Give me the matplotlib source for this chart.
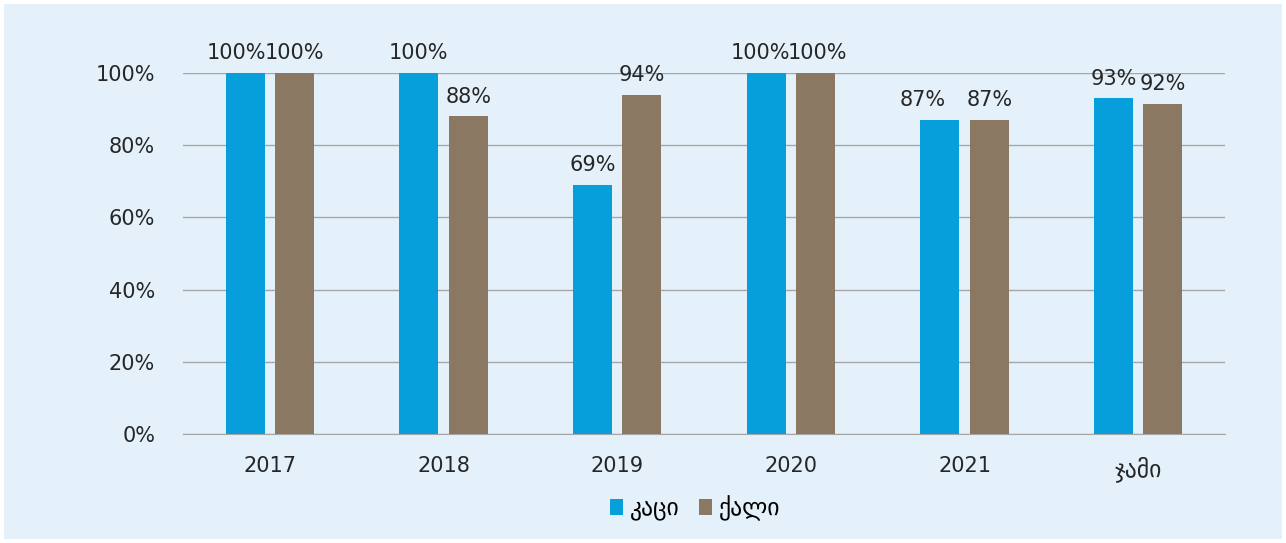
import matplotlib.pyplot as plt
from matplotlib.patches import Rectangle
import numpy as np

categories = ["2017", "2018", "2019", "2020", "2021", "ჯამი"]
men = [1.00, 1.00, 0.69, 1.00, 0.87, 0.93]
women = [1.00, 0.88, 0.94, 1.00, 0.87, 0.915]
series_names = ["კაცი", "ქალი"]

blue = "#069FDC"
brown = "#8B7862"
bg = "#E4F1FA"
txt = "#262626"

plt.rcParams['font.family'] = ['DejaVu Sans']

fig = plt.figure(figsize=(12.86, 5.43), dpi=100, facecolor="white")
fig.patches.append(Rectangle((4 / 1286, 4 / 543), 1278 / 1286, 535 / 543,
                             transform=fig.transFigure, facecolor=bg,
                             edgecolor="none", zorder=-10))
ax = fig.add_axes([183 / 1286, 109 / 543, 1042 / 1286, 361 / 543])
ax.set_facecolor("none")

x = np.arange(len(categories))
w = 0.225
off = 0.1425
b1 = ax.bar(x - off, men, w, color=blue, label=series_names[0], zorder=3)
b2 = ax.bar(x + off, women, w, color=brown, label=series_names[1], zorder=3)

# small sideways nudges of the labels (in points) as in the original
men_nudge = [-6, 0, 0, -4, -12, 0]
women_nudge = [0, 0, 0, 1, 0, 0]
for bars, vals, nudge in ((b1, men, men_nudge), (b2, women, women_nudge)):
    for rect, v, dx in zip(bars, vals, nudge):
        ax.annotate(f"{v:.0%}", (rect.get_x() + rect.get_width() / 2, v),
                    xytext=(dx, 7), textcoords="offset points",
                    ha="center", va="bottom", fontsize=15, color=txt,
                    annotation_clip=False)

ax.set_xlim(-0.5, len(categories) - 0.5)
ax.set_ylim(0, 1.0)
yt = np.arange(0, 1.01, 0.2)
ax.set_yticks(yt)
ax.set_yticklabels([f"{int(round(t * 100))}%" for t in yt])
ax.set_xticks(x)
ax.set_xticklabels(categories)
ax.tick_params(length=0, labelsize=15, labelcolor=txt)
ax.tick_params(axis="y", pad=20)
ax.tick_params(axis="x", pad=16)
ax.get_xticklabels()[-1].set_fontsize(17)
ax.yaxis.grid(True, color="#A6A6A6", linewidth=1, zorder=0)
ax.set_axisbelow(True)
for s in ("top", "right", "left"):
    ax.spines[s].set_visible(False)
ax.spines["bottom"].set_color("#A6A6A6")

fig.legend(loc="center", bbox_to_anchor=(695 / 1286, 1 - 508 / 543),
           ncol=2, frameon=False, prop={"size": 17}, handlelength=0.55,
           handleheight=0.65, handletextpad=0.3, columnspacing=0.8)

fig.savefig("out.png", dpi=100, facecolor="white")
